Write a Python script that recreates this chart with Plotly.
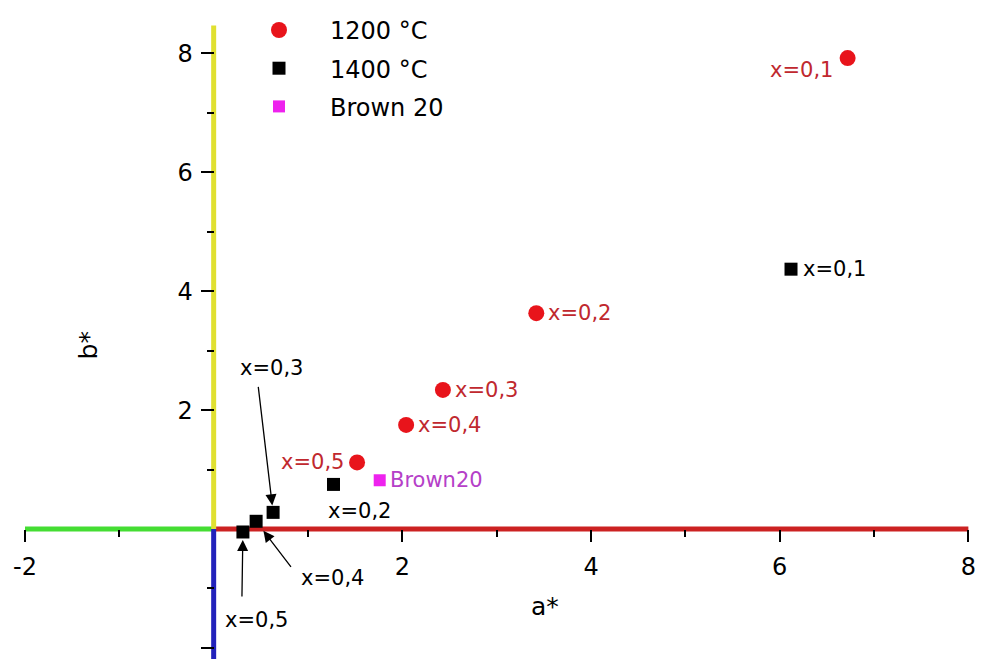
import plotly.graph_objects as go

# CIELab a*/b* coordinates of the sintered samples
labels_1200 = ["x=0,1", "x=0,2", "x=0,3", "x=0,4", "x=0,5"]
a_1200 = [6.72, 3.42, 2.43, 2.04, 1.52]
b_1200 = [7.92, 3.63, 2.34, 1.75, 1.12]

labels_1400 = ["x=0,1", "x=0,2", "x=0,3", "x=0,4", "x=0,5"]
a_1400 = [6.12, 1.27, 0.63, 0.45, 0.31]
b_1400 = [4.37, 0.75, 0.28, 0.13, -0.05]

label_ref = ["Brown20"]
a_ref = [1.76]
b_ref = [0.82]

# axis extents and ticks
x_range = [-2.265, 8.134]
y_range = [-2.186, 8.897]
x_major = [-2, 2, 4, 6, 8]
x_major_text = ["-2", "2", "4", "6", "8"]
x_minor = [-1, 1, 3, 5, 7]
y_major = [-2, 2, 4, 6, 8]
y_major_text = ["-2", "2", "4", "6", "8"]
y_minor = [-1, 1, 3, 5, 7]
neg_a_end, pos_a_end = -2, 8
pos_b_end, neg_b_end = 8.47, y_range[0]

FONT = "DejaVu Sans"
RED = "#e8141b"
RED_TXT = "#c0282e"
MAGENTA = "#ee22ee"
PURPLE_TXT = "#b540c8"

fig = go.Figure()

# colored half-axes through the origin
axis_segments = [
    ([neg_a_end, 0], [0, 0], "#44dd33"),
    ([0, pos_a_end], [0, 0], "#cc2222"),
    ([0, 0], [0, pos_b_end], "#e0e030"),
    ([0, 0], [0, neg_b_end], "#2222bb"),
]
for xs, ys, col in axis_segments:
    fig.add_trace(go.Scatter(x=xs, y=ys, mode="lines",
                             line=dict(color=col, width=5),
                             showlegend=False, hoverinfo="skip"))

fig.add_trace(go.Scatter(x=a_1200, y=b_1200, mode="markers", name="1200 °C",
                         legendgroup="g1",
                         marker=dict(symbol="circle", size=16, color=RED)))
fig.add_trace(go.Scatter(x=a_1400, y=b_1400, mode="markers", name="1400 °C",
                         legendgroup="g2",
                         marker=dict(symbol="square", size=13, color="black")))
fig.add_trace(go.Scatter(x=a_ref, y=b_ref, mode="markers", name="Brown 20",
                         legendgroup="g3",
                         marker=dict(symbol="square", size=12, color=MAGENTA)))

lab_font = dict(family=FONT, size=21)

def point_label(x, y, text, color, xanchor, xshift, yshift=0):
    fig.add_annotation(x=x, y=y, text=text, showarrow=False,
                       xanchor=xanchor, yanchor="middle",
                       xshift=xshift, yshift=yshift,
                       font=dict(lab_font, color=color))

# 1200 °C labels
point_label(a_1200[0], b_1200[0], labels_1200[0], RED_TXT, "right", -13, -12)
for i in (1, 2, 3):
    point_label(a_1200[i], b_1200[i], labels_1200[i], RED_TXT, "left", 10)
point_label(a_1200[4], b_1200[4], labels_1200[4], RED_TXT, "right", -11)

# 1400 °C labels
point_label(a_1400[0], b_1400[0], labels_1400[0], "black", "left", 10)
point_label(a_1400[1], b_1400[1], labels_1400[1], "black", "center", 26, -27)
point_label(a_1400[2], b_1400[2], labels_1400[2], "black", "center", -2, 144)
point_label(a_1400[3], b_1400[3], labels_1400[3], "black", "center", 76, -57)
point_label(a_1400[4], b_1400[4], labels_1400[4], "black", "center", 14, -88)

# reference pigment label
point_label(a_ref[0], b_ref[0], label_ref[0], PURPLE_TXT, "left", 8)

# arrows pointing to the crowded 1400 °C samples
for i, (ax_, ay_, so) in zip((2, 3, 4), ((-15, -127, 7), (36, 47, 12), (-1, 66, 8))):
    fig.add_annotation(x=a_1400[i], y=b_1400[i], text="", showarrow=True,
                       ax=ax_, ay=ay_, axref="pixel", ayref="pixel",
                       arrowhead=2, arrowsize=1.7, arrowwidth=1.3,
                       arrowcolor="black", standoff=so)

# axis titles
fig.add_annotation(x=3.51, y=-1.31, text="a*", showarrow=False,
                   font=dict(family=FONT, size=25, color="black"))
fig.add_annotation(x=-1.33, y=3.09, text="b*", showarrow=False, textangle=-90,
                   font=dict(family=FONT, size=25, color="black"))

x_pos = (0 - y_range[0]) / (y_range[1] - y_range[0])
y_pos = (0 - x_range[0]) / (x_range[1] - x_range[0])

tick_font = dict(family=FONT, size=24, color="black")
fig.update_layout(
    width=981, height=659,
    margin=dict(l=0, r=0, t=0, b=0),
    paper_bgcolor="white", plot_bgcolor="white",
    font=dict(family=FONT, color="black"),
    xaxis=dict(range=x_range, anchor="free", position=x_pos,
               showgrid=False, zeroline=False, showline=False,
               tickmode="array", tickvals=x_major, ticktext=x_major_text,
               ticks="outside", ticklen=12, tickwidth=1.5, tickcolor="black",
               ticklabelstandoff=4, tickfont=tick_font,
               minor=dict(tickvals=x_minor, ticks="outside", ticklen=7,
                          tickwidth=1.5, tickcolor="black", showgrid=False)),
    yaxis=dict(range=y_range, anchor="free", position=y_pos,
               showgrid=False, zeroline=False, showline=False,
               tickmode="array", tickvals=y_major, ticktext=y_major_text,
               ticks="outside", ticklen=13, tickwidth=1.5, tickcolor="black",
               ticklabelstandoff=3, tickfont=tick_font,
               minor=dict(tickvals=y_minor, ticks="outside", ticklen=7,
                          tickwidth=1.5, tickcolor="black", showgrid=False)),
    showlegend=True,
    legend=dict(x=228 / 981, y=0.988, xanchor="left", yanchor="top",
                traceorder="grouped", tracegroupgap=4,
                itemwidth=92, bgcolor="rgba(0,0,0,0)",
                font=dict(family=FONT, size=24, color="black")),
)

fig.write_html("out.html")
